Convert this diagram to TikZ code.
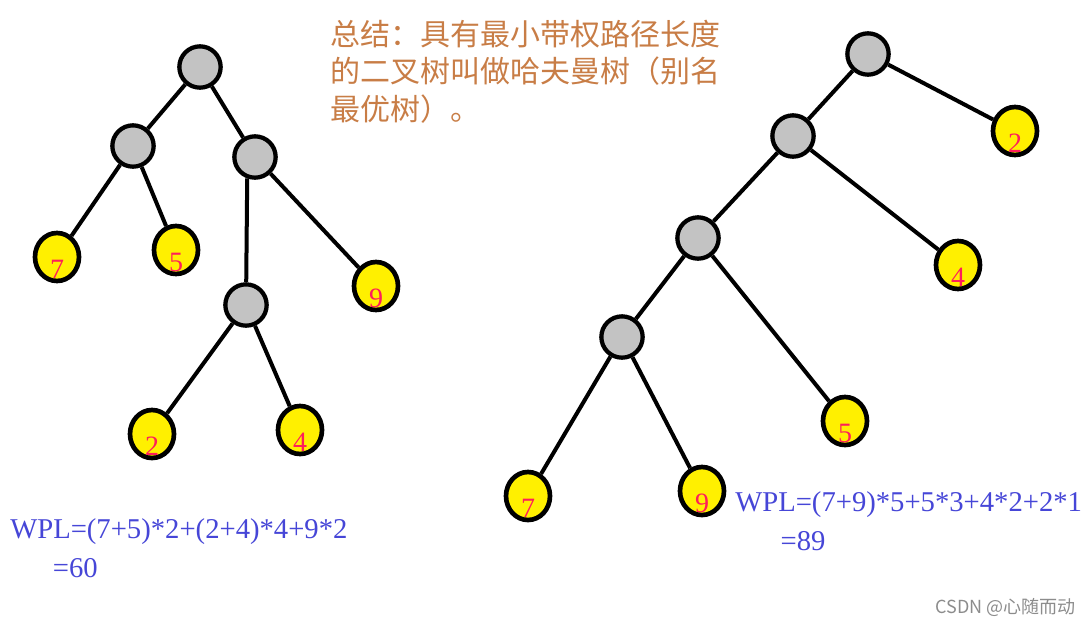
\documentclass[tikz,border=0pt]{standalone}
\usepackage{fontspec}
\setmainfont{Liberation Serif}
\newfontfamily\cjkfont{Noto Sans CJK SC}
\usepackage{xcolor}
\usepackage{tikz}
\usetikzlibrary{positioning}
\usetikzlibrary{shapes.geometric}

\definecolor{nodegray}{RGB}{195,195,195}
\definecolor{leafyellow}{RGB}{255,240,0}
\definecolor{weightred}{RGB}{255,30,90}
\definecolor{noteorange}{RGB}{200,125,70}
\definecolor{wplblue}{RGB}{70,70,215}

\newcommand{\wt}[1]{\raisebox{-16pt}[0pt][0pt]{#1}}

\begin{document}
\begin{tikzpicture}
 [x=0.75pt, y=-0.75pt,
  inner/.style={circle, draw=black, line width=3.2pt, fill=nodegray,
                minimum size=31pt, inner sep=0pt},
  leaf/.style={ellipse, draw=black, line width=3.5pt, fill=leafyellow,
               minimum width=33pt, minimum height=36pt, inner sep=0pt,
               text=weightred, font=\fontsize{21}{21}\selectfont},
  link/.style={line width=3pt},
  note/.style={text=noteorange, align=left, inner sep=0pt,
               font=\cjkfont\fontsize{22.5}{28}\selectfont},
  wpl/.style={text=wplblue, align=left, inner sep=0pt,
              font=\fontsize{21.5}{29}\selectfont},
  watermark/.style={text=black!45, inner sep=0pt, font=\cjkfont\fontsize{13.5}{13.5}\selectfont}]
 \useasboundingbox (0,0) rectangle (1091,626);

 % left tree
 \node[inner] (l-root) at (200,67)  {};
 \node[inner] (l-a)    at (133,146) {};
 \node[inner] (l-b)    at (255,157) {};
 \node[inner] (l-c)    at (246,305) {};
 \node[leaf]  (l-7)    at (57,257)  {\wt{7}};
 \node[leaf]  (l-5)    at (176,250) {\wt{5}};
 \node[leaf]  (l-9)    at (376,286) {\wt{9}};
 \node[leaf]  (l-2)    at (152,434) {\wt{2}};
 \node[leaf]  (l-4)    at (300,430) {\wt{4}};

 \path (l-root) edge [link] (l-a)
                edge [link] (l-b)
       (l-a)    edge [link] (l-7)
                edge [link] (l-5)
       (l-b.250) edge [link] (l-c)
       (l-b)    edge [link] (l-9)
       (l-c)    edge [link] (l-2)
                edge [link] (l-4);

 % right tree
 \node[inner] (r-root) at (868,54)  {};
 \node[inner] (r-a)    at (793,136) {};
 \node[inner] (r-b)    at (698,238) {};
 \node[inner] (r-c)    at (622,337) {};
 \node[leaf]  (r-2)    at (1015,131) {\wt{2}};
 \node[leaf]  (r-4)    at (958,265) {\wt{4}};
 \node[leaf]  (r-5)    at (845,421) {\wt{5}};
 \node[leaf]  (r-7)    at (528,496) {\wt{7}};
 \node[leaf]  (r-9)    at (702,491) {\wt{9}};

 \path (r-root) edge [link] (r-a)
                edge [link] (r-2)
       (r-a)    edge [link] (r-b)
                edge [link] (r-4)
       (r-b)    edge [link] (r-c)
                edge [link] (r-5)
       (r-c)    edge [link] (r-7)
                edge [link] (r-9);

 % texts
 \node[note, anchor=north west] (summary) at (330,20)
  {总结：具有最小带权路径长度\\的二叉树叫做哈夫曼树（别名\\最优树）。};
 \node[wpl, anchor=base west] (l-wpl) at (10,577)
  {WPL=(7+5)*2+(2+4)*4+9*2\\\hspace*{32pt}=60};
 \node[wpl, anchor=base west] (r-wpl) at (735,550)
  {WPL=(7+9)*5+5*3+4*2+2*1\\\hspace*{34pt}=89};
 \node[watermark, anchor=base east] (credit) at (1076,613) {CSDN @心随而动};
\end{tikzpicture}
\end{document}
